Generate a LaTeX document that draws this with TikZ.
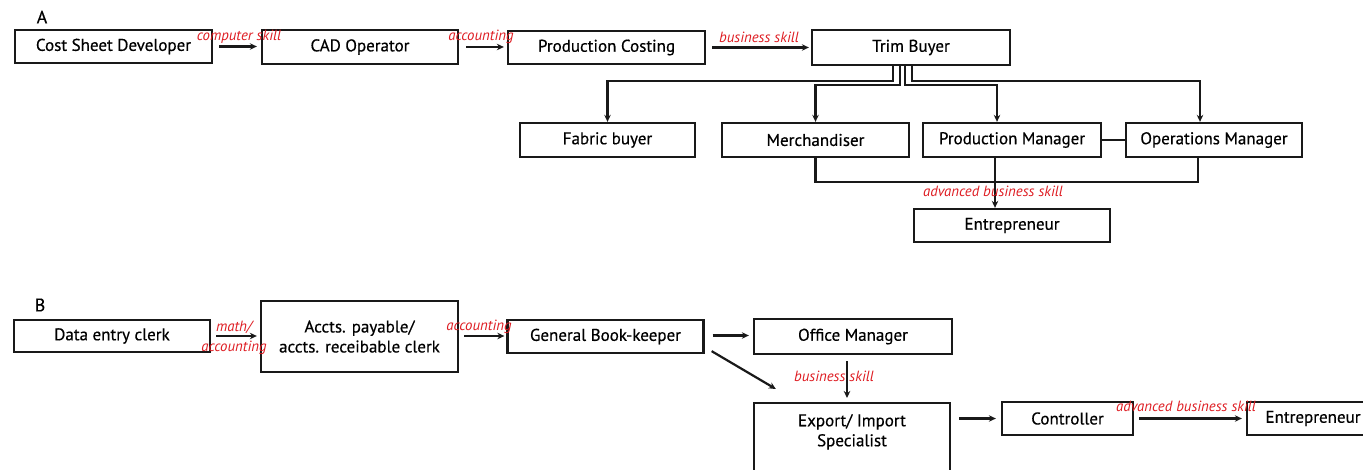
\documentclass[tikz,border=0pt]{standalone}
\usepackage{fontspec}
\setmainfont{PT Sans}
\newfontfamily\boxfont{PT Sans}[FakeBold=0.5]
\usetikzlibrary{arrows.meta,calc}
\definecolor{lbl}{RGB}{222,28,34}
\definecolor{ink}{RGB}{25,25,25}
\begin{document}
\begin{tikzpicture}[x=1pt,y=-1pt,
  box/.style={draw=ink, line width=2.3pt, fill=white, inner sep=0pt,
    font=\boxfont\fontsize{17}{20}\selectfont, align=center},
  conn/.style={line width=2.2pt, draw=ink},
  arr/.style={conn, -{Stealth[length=7pt,width=6.5pt]}},
  lab/.style={text=lbl, font=\fontsize{14.8}{16}\selectfont\itshape, inner sep=0pt},
  sect/.style={font=\boxfont\fontsize{18}{20}\selectfont, inner sep=0pt}
]
\useasboundingbox (0,0) rectangle (1363,470);
\clip (0,0) rectangle (1363,470);

% ---------- A ----------
\node[sect] (la) at (42,17) {A};
\node[box, minimum width=197pt, minimum height=33pt] (csd) at (113.5,46.5) {Cost Sheet Developer};
\node[box, minimum width=196pt, minimum height=34pt] (cad) at (360,47) {CAD Operator};
\node[box, minimum width=197pt, minimum height=33pt] (pc) at (606.5,47.5) {Production Costing};
\node[box, minimum width=198pt, minimum height=35pt] (tb) at (911,47.5) {Trim Buyer};
\node[box, minimum width=175pt, minimum height=34pt] (fb) at (607.5,140) {Fabric buyer};
\node[box, minimum width=187pt, minimum height=34pt] (mer) at (815.5,140) {Merchandiser};
\node[box, minimum width=178pt, minimum height=34pt] (pm) at (1012,140) {Production Manager};
\node[box, minimum width=176pt, minimum height=34pt] (om) at (1214,140) {Operations Manager};
\node[box, minimum width=196pt, minimum height=33pt] (ent1) at (1012,225.5) {Entrepreneur};

\draw[arr, shorten <=6pt, shorten >=4pt] (csd.east) -- (csd.east -| cad.west);
\draw[arr, shorten <=7pt, shorten >=3pt] (cad.east) -- (cad.east -| pc.west);
\draw[arr, shorten <=6pt, shorten >=2pt] (pc.east) -- (pc.east -| tb.west);
\node[lab] (l1) at (239,37) {computer skill};
\node[lab] (l2) at (481,37) {accounting};
\node[lab] (l3) at (759,37) {business skill};

\draw[arr] ([xshift=-18pt]tb.south) -- ++(0,15) -| (fb.north);
\draw[arr] ([xshift=-11pt]tb.south) -- ++(0,19) -| (mer.north);
\draw[arr] ([xshift=-6pt]tb.south) -- ++(0,19) -| ([xshift=-15pt]pm.north);
\draw[arr] ([xshift=1pt]tb.south) -- ++(0,15) -| ([xshift=-14pt]om.north);
\draw[conn] (pm.east) -- (pm.east -| om.west);
\draw[conn] (mer.south) -- ++(0,24) -| ([xshift=-16pt]om.south);
\draw[arr] ([xshift=-17pt]pm.south) -- ([xshift=-17pt]pm.south |- ent1.north);
\node[lab] (l4) at (993,191) {advanced business skill};

% ---------- B ----------
\node[sect] (lb) at (40,305) {B};
\node[box, minimum width=196pt, minimum height=32pt] (dec) at (112,336) {Data entry clerk};
\node[box, minimum width=197pt, minimum height=71pt] (acc) at (359.5,336.5) {Accts. payable/\\accts. receibable clerk};
\node[box, minimum width=196pt, minimum height=33pt] (gbk) at (605.5,336.5) {General Book-keeper};
\node[box, minimum width=198pt, minimum height=35pt] (omg) at (853,336.5) {Office Manager};
\node[box, minimum width=196pt, minimum height=100pt, anchor=north] (exp) at (852,402)
  {\parbox[t][86pt][t]{180pt}{\centering\vspace{4pt}Export/ Import\\Specialist}};
\node[box, minimum width=131pt, minimum height=33pt] (ctl) at (1067.5,418.5) {Controller};
\node[box, minimum width=132pt, minimum height=33pt] (ent2) at (1313,418.5) {Entrepreneur};

\draw[arr, shorten <=5pt, shorten >=3pt] (dec.east) -- (dec.east -| acc.west);
\draw[arr, shorten <=5pt, shorten >=2pt] (dec.east -| acc.east) -- (dec.east -| gbk.west);
\draw[arr, shorten <=8pt, shorten >=4pt] ([yshift=1pt]gbk.east) -- ([yshift=1pt]gbk.east -| omg.west);
\draw[arr] ([shift={(7,-3)}]gbk.south east) -- ([shift={(23,-13)}]exp.north west);
\draw[arr, shorten <=6pt, shorten >=4pt] ([xshift=-6pt]omg.south) -- ([xshift=-6pt]omg.south |- exp.north);
\draw[arr, shorten <=8pt, shorten >=5pt] (ctl.west -| exp.east) -- (ctl.west);
\draw[arr, shorten <=5pt, shorten >=4pt] (ctl.east) -- (ent2.west);
\node[lab] (l5) at (234,327) {math/};
\node[lab] (l6) at (234,348) {accounting};
\node[lab] (l7) at (479,327) {accounting};
\node[lab] (l8) at (834,376) {business skill};
\node[lab] (l9) at (1186,406) {advanced business skill};
\end{tikzpicture}
\end{document}
